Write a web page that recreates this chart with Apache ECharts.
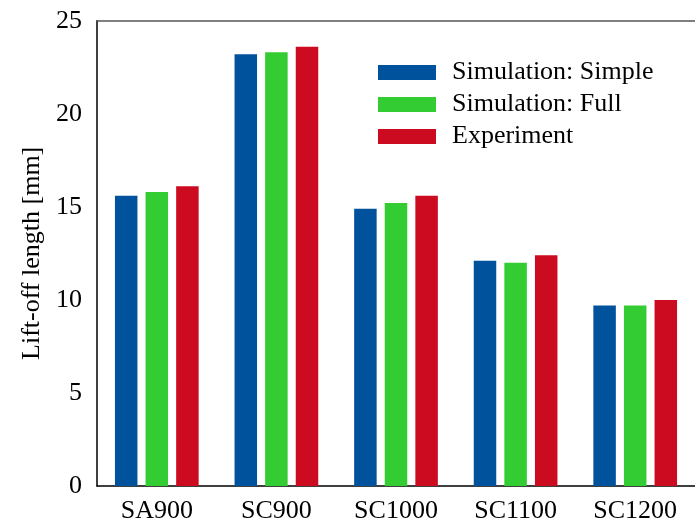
<!DOCTYPE html>
<html><head><meta charset="utf-8">
<script src="https://cdn.jsdelivr.net/npm/echarts@6/dist/echarts.min.js"></script>
<style>html,body{margin:0;padding:0;background:#fff}#c{width:695px;height:527px}</style>
</head><body><div id="c"></div>
<script>
var categories = ['SA900', 'SC900', 'SC1000', 'SC1100', 'SC1200'];
var seriesNames = ['Simulation: Simple', 'Simulation: Full', 'Experiment'];
var simSimple = [15.6, 23.2, 14.9, 12.1, 9.7];
var simFull = [15.8, 23.3, 15.2, 12.0, 9.7];
var experiment = [16.1, 23.6, 15.6, 12.4, 10.0];
var yTicks = [0, 5, 10, 15, 20, 25];
var colors = ['#00529c', '#33cc33', '#cc0a20'];

var font = 'Liberation Serif';
var chart = echarts.init(document.getElementById('c'), null, {renderer: 'canvas'});
var values = [simSimple, simFull, experiment];
chart.setOption({
  animation: false,
  textStyle: {fontFamily: font},
  grid: {left: 97, top: 20.7, width: 607, height: 465.3, containLabel: false},
  legend: {
    orient: 'vertical', left: 373, top: 54.5,
    itemWidth: 58, itemHeight: 15, itemGap: 6,
    icon: 'rect',
    textStyle: {fontFamily: font, fontSize: 26, color: '#000', padding: [0, 0, 0, 11]},
    data: seriesNames
  },
  xAxis: [{
    type: 'category', data: categories, position: 'bottom',
    axisLine: {lineStyle: {color: '#000', width: 1.5}},
    axisTick: {inside: true, alignWithLabel: true, length: 8, lineStyle: {color: '#555'}},
    axisLabel: {fontFamily: font, fontSize: 26, color: '#000', margin: 12}
  }, {
    type: 'category', data: categories, position: 'top',
    axisLine: {lineStyle: {color: '#555', width: 1.5}},
    axisTick: {inside: true, alignWithLabel: true, length: 8, lineStyle: {color: '#555'}},
    axisLabel: {show: false}
  }],
  yAxis: {
    type: 'value', min: yTicks[0], max: yTicks[yTicks.length - 1], interval: 5,
    name: 'Lift-off length [mm]', nameLocation: 'middle', nameGap: 52,
    nameTextStyle: {fontFamily: font, fontSize: 26, color: '#000'},
    axisLine: {show: true, lineStyle: {color: '#000', width: 1.5}},
    axisTick: {inside: true, length: 8, lineStyle: {color: '#777', width: 1.5}},
    splitLine: {show: false},
    axisLabel: {fontFamily: font, fontSize: 26, color: '#000', margin: 15}
  },
  series: seriesNames.map(function (n, i) {
    return {
      name: n, type: 'bar', data: values[i], barWidth: 22.5, barGap: '36%',
      itemStyle: {color: colors[i]}
    };
  })
});
</script></body></html>
